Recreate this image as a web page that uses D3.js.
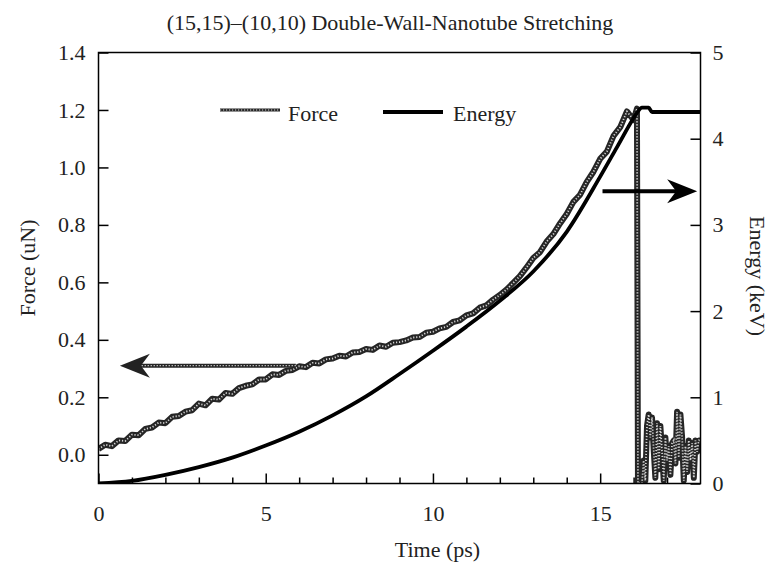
<!DOCTYPE html>
<html lang="en">
<head>
<meta charset="UTF-8">
<title>Double-Wall Nanotube Stretching</title>
<script src="https://d3js.org/d3.v7.min.js"></script>
<style>
    body { margin: 0; background: #fff; }
    text { font-family: "Liberation Serif", "Times New Roman", serif; fill: #222; }
</style>
</head>
<body>
<svg width="775" height="571"></svg>
<script>
    // force (uN) sampled along the run, then the noisy tail after the tube breaks
    const forceTime = [
        0, 0.2, 0.4, 0.6, 0.8, 1, 1.2, 1.4, 1.6, 1.8, 2, 2.2, 2.4, 2.6, 2.8, 3, 3.2, 3.4, 3.6, 3.8,
        4, 4.2, 4.4, 4.6, 4.8, 5, 5.2, 5.4, 5.6, 5.8, 6, 6.2, 6.4, 6.6, 6.8, 7, 7.2, 7.4, 7.6, 7.8,
        8, 8.2, 8.4, 8.6, 8.8, 9, 9.2, 9.4, 9.6, 9.8, 10, 10.2, 10.4, 10.6, 10.8, 11, 11.2, 11.4, 11.6, 11.8,
        12, 12.2, 12.4, 12.6, 12.8, 13, 13.2, 13.4, 13.6, 13.8, 14, 14.2, 14.4, 14.6, 14.8, 15, 15.2, 15.4, 15.6, 15.8,
        16, 16.1, 16.13,
        16.15, 16.2, 16.25, 16.3, 16.35, 16.4, 16.45, 16.5, 16.55, 16.6, 16.65, 16.7, 16.75, 16.8, 16.85, 16.9, 16.95,
        17, 17.05, 17.1, 17.15, 17.2, 17.25, 17.3, 17.35, 17.4, 17.45, 17.5, 17.55, 17.6, 17.65, 17.7, 17.75, 17.8,
        17.85, 17.9, 17.95, 18
    ];
    const forceValue = [
        0.020, 0.035, 0.030, 0.050, 0.048, 0.070, 0.068, 0.090, 0.095, 0.112, 0.110, 0.132, 0.135, 0.150, 0.155, 0.178, 0.172, 0.195, 0.192, 0.215,
        0.212, 0.232, 0.240, 0.245, 0.262, 0.262, 0.280, 0.278, 0.292, 0.295, 0.308, 0.305, 0.320, 0.318, 0.332, 0.335, 0.345, 0.342, 0.356, 0.358,
        0.368, 0.365, 0.380, 0.376, 0.390, 0.392, 0.398, 0.408, 0.410, 0.425, 0.428, 0.440, 0.445, 0.462, 0.468, 0.485, 0.492, 0.512, 0.520, 0.540,
        0.556, 0.575, 0.598, 0.622, 0.652, 0.685, 0.705, 0.742, 0.768, 0.805, 0.838, 0.880, 0.905, 0.950, 0.985, 1.030, 1.055, 1.110, 1.140, 1.195,
        1.165, 1.205, -0.10,
        -0.10, -0.10, -0.10, -0.02, -0.09, 0.10, 0.14, 0.06, 0.13, 0.02, -0.08, 0.11, -0.05, 0.10, 0.01, -0.09, 0.06,
        -0.02, 0.03, -0.07, 0.04, 0.05, -0.03, 0.15, -0.01, 0.14, 0.06, -0.09, 0.03, -0.06, 0.05, -0.02, 0.04, -0.08,
        0.05, 0.01, 0.05, 0.05
    ];

    // stored energy (keV)
    const energyTime = [0, 1, 2, 3, 4, 5, 6, 7, 8, 9, 10, 11, 12, 13, 14, 15, 15.5, 16, 16.1, 16.25, 16.45, 16.55, 18];
    const energyValue = [0, 0.03, 0.10, 0.19, 0.30, 0.44, 0.60, 0.79, 1.01, 1.27, 1.54, 1.82, 2.12, 2.46, 2.92, 3.56, 3.90, 4.24, 4.30, 4.36, 4.36, 4.31, 4.31];

    const timeTicks = [0, 5, 10, 15];
    const timeMinorTicks = [1, 2, 3, 4, 6, 7, 8, 9, 11, 12, 13, 14, 16, 17];
    const forceTicks = [0.0, 0.2, 0.4, 0.6, 0.8, 1.0, 1.2, 1.4];
    const energyTicks = [0, 1, 2, 3, 4, 5];

    // arrows pointing at the axis each curve belongs to
    const forceArrow = {from: 5.9, to: 0.64, value: 0.31};
    const energyArrow = {from: 15.07, to: 17.9, value: 3.39};

    let svg = d3.select("svg");
    const plotLeft = 98.5, plotRight = 700.5, plotTop = 52.5, plotBottom = 483.5;

    let x = d3.scaleLinear().domain([0, 18]).range([plotLeft, plotRight]);
    let yF = d3.scaleLinear().domain([-0.1, 1.4]).range([plotBottom, plotTop]);
    let yE = d3.scaleLinear().domain([0, 5]).range([plotBottom, plotTop]);

    svg.append("clipPath").attr("id", "plot")
        .append("rect").attr("x", plotLeft).attr("y", plotTop)
        .attr("width", plotRight - plotLeft).attr("height", plotBottom - plotTop);

    const forceData = forceTime.map((t, i) => [t, forceValue[i]]);
    const energyData = energyTime.map((t, i) => [t, energyValue[i]]);

    let plot = svg.append("g").attr("clip-path", "url(#plot)");

    let forceLine = d3.line().x(d => x(d[0])).y(d => yF(d[1]));
    let energyLine = d3.line().x(d => x(d[0])).y(d => yE(d[1])).curve(d3.curveMonotoneX);

    // speckled stroke used for the force series: dark band with a chain of light dots
    function speckle(sel, width, dotWidth) {
        sel.append("path")
            .attr("fill", "none").attr("stroke", "#262626")
            .attr("stroke-width", width).attr("stroke-linejoin", "round");
        sel.append("path")
            .attr("fill", "none").attr("stroke", "#fff").attr("stroke-opacity", 0.8)
            .attr("stroke-width", dotWidth).attr("stroke-dasharray", "1.2 1.8");
    }

    let forceG = plot.append("g");
    speckle(forceG, 6, 1.8);
    forceG.selectAll("path").datum(forceData).attr("d", forceLine);

    plot.append("path").datum(energyData)
        .attr("d", energyLine)
        .attr("fill", "none").attr("stroke", "#000")
        .attr("stroke-width", 3.8);

    // arrows
    function arrowHead(tipX, tipY, dir) {
        // dir = -1 points left, 1 points right
        const p = [[tipX, tipY], [tipX - dir * 30, tipY - 12], [tipX - dir * 21, tipY], [tipX - dir * 30, tipY + 12]];
        return "M" + p.map(q => q.join(",")).join("L") + "Z";
    }
    let fy = yF(forceArrow.value);
    let fArrow = svg.append("g");
    speckle(fArrow, 4, 1.2);
    fArrow.selectAll("path").attr("d", `M${x(forceArrow.from)},${fy}H${x(forceArrow.to) + 21}`);
    svg.append("path").attr("d", arrowHead(x(forceArrow.to), fy, -1)).attr("fill", "#222");

    let ey = yE(energyArrow.value);
    svg.append("line")
        .attr("x1", x(energyArrow.from)).attr("x2", x(energyArrow.to) - 21)
        .attr("y1", ey).attr("y2", ey)
        .attr("stroke", "#000").attr("stroke-width", 4);
    svg.append("path").attr("d", arrowHead(x(energyArrow.to), ey, 1)).attr("fill", "#000");

    // axes, ticks pointing into the frame
    let fmt = d3.format(".1f");
    let gLeft = svg.append("g").attr("transform", `translate(${plotLeft},0)`)
        .call(d3.axisLeft(yF).tickValues(forceTicks).tickFormat(fmt).tickSize(-10).tickPadding(13));
    let gRight = svg.append("g").attr("transform", `translate(${plotRight},0)`)
        .call(d3.axisRight(yE).tickValues(energyTicks).tickFormat(d3.format("d")).tickSize(-10).tickPadding(12));
    let gBottom = svg.append("g").attr("transform", `translate(0,${plotBottom})`)
        .call(d3.axisBottom(x).tickValues(timeTicks).tickFormat(d3.format("d")).tickSize(-10).tickPadding(22));
    let gMinor = svg.append("g").attr("transform", `translate(0,${plotBottom})`)
        .call(d3.axisBottom(x).tickValues(timeMinorTicks).tickFormat("").tickSize(-6));

    [gLeft, gRight, gBottom, gMinor].forEach(g => {
        g.select(".domain").remove();
        g.selectAll(".tick line").attr("stroke", "#000").attr("stroke-width", 1.5);
        g.selectAll(".tick text")
            .style("font-family", '"Liberation Serif", "Times New Roman", serif')
            .style("font-size", "22px").attr("fill", "#222");
    });

    svg.append("rect")
        .attr("x", plotLeft).attr("y", plotTop)
        .attr("width", plotRight - plotLeft).attr("height", plotBottom - plotTop)
        .attr("fill", "none").attr("stroke", "#000").attr("stroke-width", 1.5);

    // titles
    svg.append("text").attr("x", 390).attr("y", 30)
        .attr("text-anchor", "middle").style("font-size", "22px")
        .text("(15,15)–(10,10) Double-Wall-Nanotube Stretching");
    svg.append("text").attr("x", (plotLeft + plotRight) / 2 + 38).attr("y", 557)
        .attr("text-anchor", "middle").style("font-size", "22px")
        .text("Time (ps)");
    svg.append("text")
        .attr("transform", `translate(35,${(plotTop + plotBottom) / 2}) rotate(-90)`)
        .attr("text-anchor", "middle").style("font-size", "22px")
        .text("Force (uN)");
    svg.append("text")
        .attr("transform", `translate(750,276) rotate(90)`)
        .attr("text-anchor", "middle").style("font-size", "22px")
        .text("Energy (keV)");

    // legend
    let legend = svg.append("g");
    let legendForce = legend.append("g");
    speckle(legendForce, 3, 1);
    legendForce.selectAll("path").attr("d", "M220,110H280");
    legend.append("text").attr("x", 288).attr("y", 121).style("font-size", "22px").text("Force");
    legend.append("line").attr("x1", 383).attr("x2", 443).attr("y1", 112).attr("y2", 112)
        .attr("stroke", "#000").attr("stroke-width", 4);
    legend.append("text").attr("x", 453).attr("y", 121).style("font-size", "22px").text("Energy");
</script>
</body>
</html>
